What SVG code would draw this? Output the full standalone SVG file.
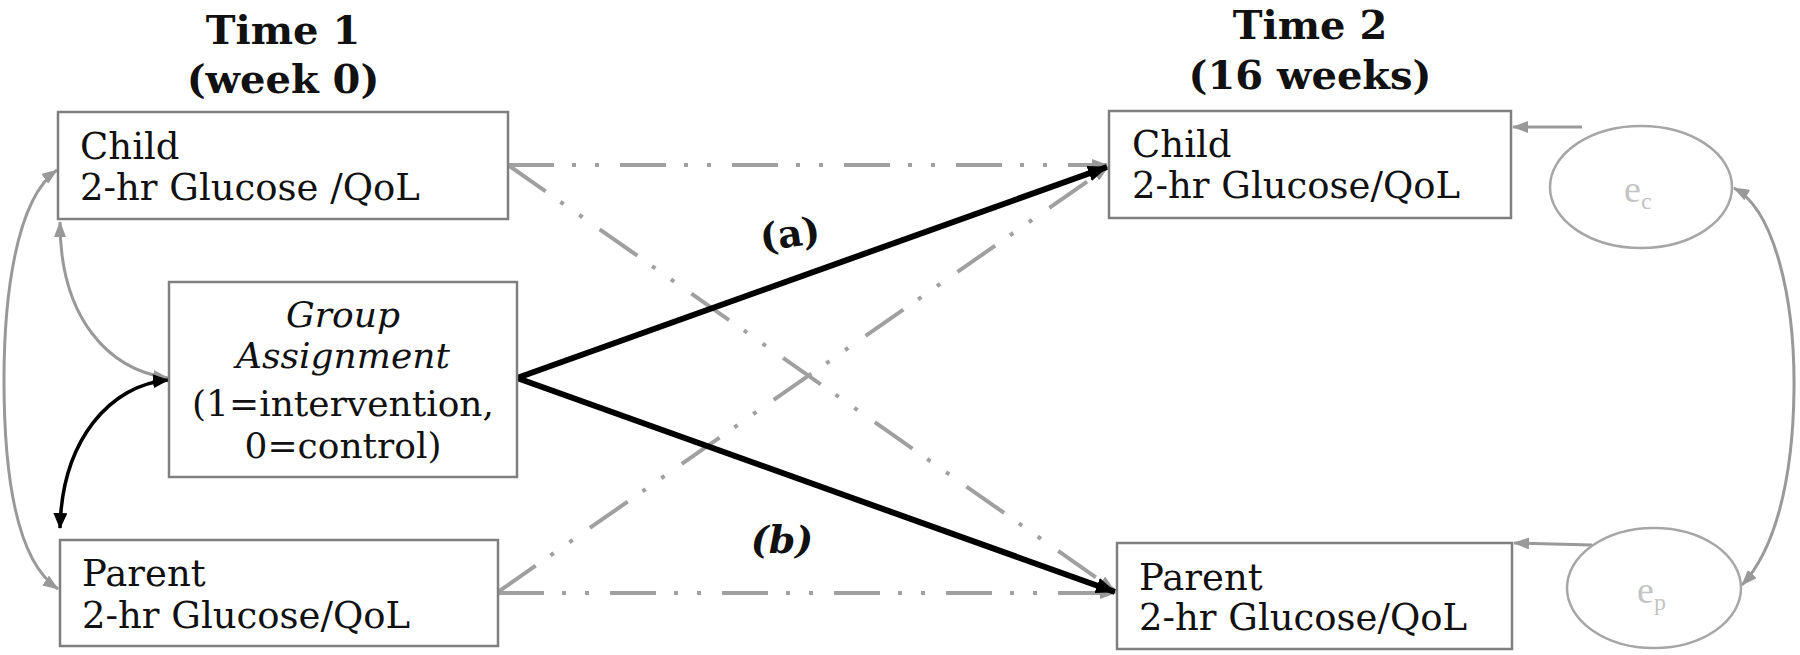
<svg xmlns="http://www.w3.org/2000/svg" width="1800" height="655" viewBox="0 0 1800 655">
<style>
.box{fill:#fff;stroke:#7f7f7f;stroke-width:2.5}
.ell{fill:#fff;stroke:#a6a6a6;stroke-width:2.5}
.t{font-family:"DejaVu Serif",serif;font-size:37px;fill:#111}
.g36{font-size:36px}
.it{font-style:italic}
.mid{text-anchor:middle}
.h{font-family:"DejaVu Serif",serif;font-size:40px;font-weight:bold;fill:#111;text-anchor:middle}
.lab{font-family:"DejaVu Serif",serif;font-size:38px;font-weight:bold;fill:#111;text-anchor:middle}
.e{font-family:"Liberation Serif",serif;font-size:38px;fill:#c4c4c4}
.g{fill:none;stroke:#999;stroke-width:3}
.gd{fill:none;stroke:#a0a0a0;stroke-width:4;stroke-dasharray:46 18 4 19 4 21}
.bk{fill:none;stroke:#000;stroke-width:6}
.bk2{fill:none;stroke:#000;stroke-width:3.5}
</style>
<defs>
<marker id="ag" markerUnits="userSpaceOnUse" markerWidth="16" markerHeight="12" refX="15" refY="6" orient="auto-start-reverse"><path d="M0,0 L16,6 L0,12 z" fill="#999"/></marker>
<marker id="ab" markerUnits="userSpaceOnUse" markerWidth="20" markerHeight="16" refX="19" refY="8" orient="auto-start-reverse"><path d="M0,0 L20,8 L0,16 z" fill="#000"/></marker>
<marker id="ab2" markerUnits="userSpaceOnUse" markerWidth="16" markerHeight="14" refX="15" refY="7" orient="auto-start-reverse"><path d="M0,0 L16,7 L0,14 z" fill="#000"/></marker>
</defs>

<text class="h" x="283" y="44">Time 1</text>
<text class="h" x="283" y="93">(week 0)</text>
<text class="h" x="1310" y="39">Time 2</text>
<text class="h" x="1310" y="89">(16 weeks)</text>

<g id="connectors">
<path class="gd" d="M508,165 L1107,165" marker-end="url(#ag)"/>
<path class="gd" d="M498,593 L1115,593" marker-end="url(#ag)"/>
<path class="gd" d="M508,165 L1114,590" marker-end="url(#ag)"/>
<path class="gd" d="M498,592 L1108,167" marker-end="url(#ag)"/>
<path class="bk" d="M517,378 L1107,167" marker-end="url(#ab)"/>
<path class="bk" d="M517,378 L1115,592" marker-end="url(#ab)"/>
<path class="g" d="M57,170 C15,200 4,300 4,380 C4,470 15,560 58,589" marker-start="url(#ag)" marker-end="url(#ag)"/>
<path class="g" d="M60,222 C60,320 110,370 168,378" marker-start="url(#ag)" marker-end="url(#ag)"/>
<path class="bk2" d="M168,380 C110,385 62,440 60,528" marker-start="url(#ab2)" marker-end="url(#ab2)"/>
<path class="g" d="M1582,127 L1513,127" marker-end="url(#ag)"/>
<path class="g" d="M1592,545 L1514,543" marker-end="url(#ag)"/>
<path class="g" d="M1734,188 C1775,210 1795,300 1794,390 C1793,480 1775,550 1742,585" marker-start="url(#ag)" marker-end="url(#ag)"/>
<text class="lab" x="790" y="247" transform="rotate(-8 790 235)">(a)</text>
<text class="lab" x="782" y="553" font-style="italic">(b)</text>
</g>

<g id="child1">
<rect class="box" x="58" y="112" width="450" height="107"/>
<text class="t" x="80" y="159">Child</text>
<text class="t" x="80" y="200">2-hr Glucose /QoL</text>
</g>
<g id="group">
<rect class="box" x="169" y="282" width="348" height="195"/>
<text class="t g36 it mid" x="343" y="327">Group</text>
<text class="t g36 it mid" x="343" y="368">Assignment</text>
<text class="t g36 mid" x="343" y="416">(1=intervention,</text>
<text class="t g36 mid" x="343" y="458">0=control)</text>
</g>
<g id="parent1">
<rect class="box" x="60" y="540" width="438" height="106"/>
<text class="t" x="82" y="586">Parent</text>
<text class="t" x="82" y="628">2-hr Glucose/QoL</text>
</g>
<g id="child2">
<rect class="box" x="1109" y="111" width="402" height="107"/>
<text class="t" x="1132" y="157">Child</text>
<text class="t" x="1132" y="198">2-hr Glucose/QoL</text>
</g>
<g id="parent2">
<rect class="box" x="1117" y="543" width="395" height="106"/>
<text class="t" x="1139" y="590">Parent</text>
<text class="t" x="1139" y="630">2-hr Glucose/QoL</text>
</g>
<g id="ec">
<ellipse class="ell" cx="1641" cy="187" rx="91" ry="61"/>
<text class="e" x="1624" y="202">e<tspan font-size="24" dy="7">c</tspan></text>
</g>
<g id="ep">
<ellipse class="ell" cx="1654" cy="588" rx="87" ry="60"/>
<text class="e" x="1637" y="603">e<tspan font-size="24" dy="7">p</tspan></text>
</g>
</svg>
